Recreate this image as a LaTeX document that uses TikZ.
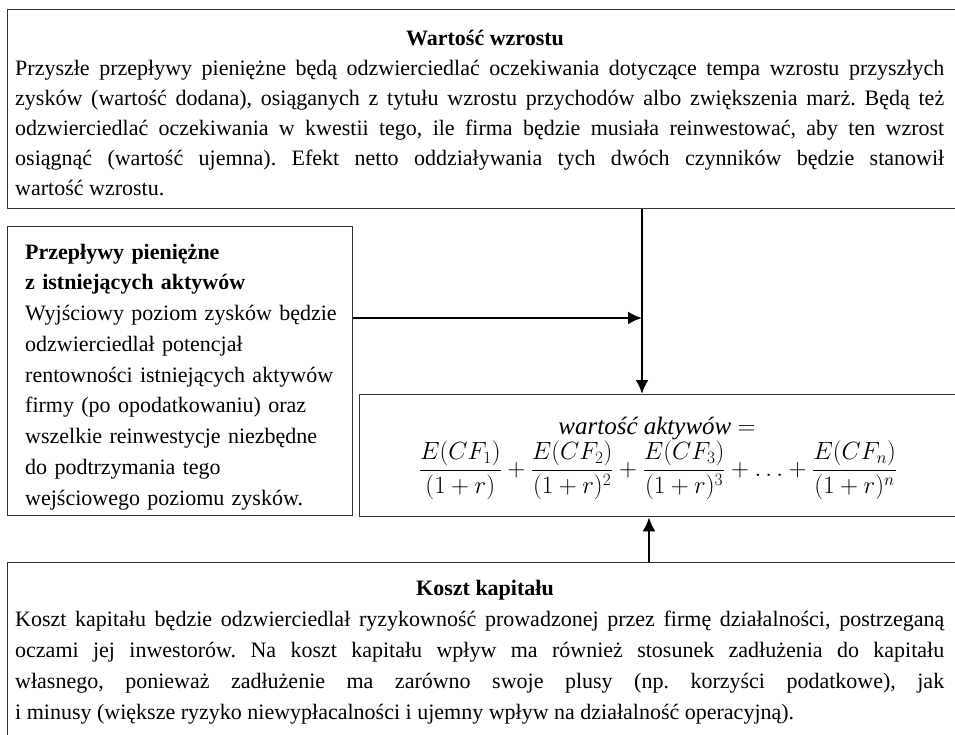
\documentclass[tikz,border=0pt]{standalone}
\usepackage{fontspec}
\setmainfont{Liberation Serif}
\usetikzlibrary{arrows.meta,calc}
\tolerance=9999
\hyphenpenalty=10000
\exhyphenpenalty=10000
\frenchspacing

\tikzset{
	frame/.style={draw=black!80, line width=1.3pt, anchor=north west, inner sep=0pt},
	txt/.style={anchor=north west, inner sep=0pt},
	heading/.style={anchor=base, inner sep=0pt, font=\bfseries\fontsize{22}{30}\selectfont},
	flow/.style={line width=2.4pt, -{Latex[length=14pt,width=13pt]}}
}

\begin{document}
\begin{tikzpicture}[x=1pt,y=-1pt]
	\useasboundingbox (0,0) rectangle (955,734);
	\clip (0,0) rectangle (955,734);
	\node[frame, minimum width=980pt, minimum height=199pt] (growth) at (7,9) {};
	\node[frame, minimum width=345pt, minimum height=289pt] (assets) at (7,226) {};
	\node[frame, minimum width=620pt, minimum height=122pt] (value) at (359,394) {};
	\node[frame, minimum width=980pt, minimum height=200pt] (capital) at (7,562) {};
	
	\node[heading] (growthtitle) at (485,45) {Wartość wzrostu};
	\node[txt, text width=929pt, align=justify, font=\fontsize{22}{30}\selectfont] (growthtext) at (15,54) {\strut Przyszłe przepływy pieniężne będą odzwierciedlać oczekiwania dotyczące tempa wzrostu przyszłych\linebreak zysków (wartość dodana), osiąganych z~tytułu wzrostu przychodów albo zwiększenia marż. Będą też\linebreak odzwierciedlać oczekiwania w~kwestii tego, ile firma będzie musiała reinwestować, aby ten wzrost\linebreak osiągnąć (wartość ujemna). Efekt netto oddziaływania tych dwóch czynników będzie stanowił\linebreak wartość wzrostu.};
	
	\node[txt, text width=325pt, align=left, font=\fontsize{22}{30.75}\selectfont] (assetstext) at (25,237.5) {\strut\textbf{Przepływy pieniężne}\\ \textbf{z istniejących aktywów}\\ Wyjściowy poziom zysków będzie\\ odzwierciedlał potencjał\\ rentowności istniejących aktywów\\ firmy (po opodatkowaniu) oraz\\ wszelkie reinwestycje niezbędne\\ do podtrzymania tego\\ wejściowego poziomu zysków.};
	
	\node[anchor=base, inner sep=0pt, font=\fontsize{25}{28}\selectfont] (valuelabel) at (657,434) {\textit{wartość aktywów} $=$};
	\node[inner sep=0pt, font=\fontsize{25.5}{28}\selectfont] (valueformula) at (658,470) {$\displaystyle \frac{E(CF_1)}{(1+r)}+\frac{E(CF_2)}{(1+r)^2}+\frac{E(CF_3)}{(1+r)^3}+\ldots+\frac{E(CF_n)}{(1+r)^n}$};
	
	\node[heading] (capitaltitle) at (485,595) {Koszt kapitału};
	\node[txt, text width=929pt, align=justify, font=\fontsize{22}{31}\selectfont] (capitaltext) at (15,604.3) {\strut Koszt kapitału będzie odzwierciedlał ryzykowność prowadzonej przez firmę działalności, postrzeganą\linebreak oczami jej inwestorów. Na koszt kapitału wpływ ma również stosunek zadłużenia do kapitału\linebreak własnego, ponieważ zadłużenie ma zarówno swoje plusy (np. korzyści podatkowe), jak\linebreak i~minusy (większe ryzyko niewypłacalności i~ujemny wpływ na działalność operacyjną).};
	
	\coordinate (join) at (642,318);
	\coordinate (rise) at (649,0);
	\draw[flow] (growth.south -| join) -- (value.north -| join);
	\draw[flow] (assets.east |- join) -- (join);
	\draw[flow] (capital.north -| rise) -- (value.south -| rise);
\end{tikzpicture}
\end{document}
